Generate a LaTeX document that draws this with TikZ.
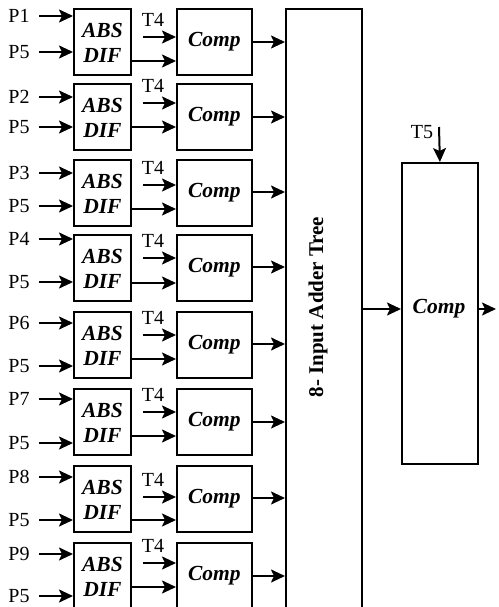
\documentclass[tikz,border=0pt]{standalone}
\usepackage{fontspec}
\setmainfont{Liberation Serif}
\usetikzlibrary{arrows.meta}
\begin{document}
\begin{tikzpicture}[x=1pt,y=-1pt,
  box/.style={draw, line width=1.8pt, inner sep=0pt},
  arr/.style={line width=2pt, -{Stealth[length=14pt,width=13pt,inset=3pt]}},
  lbl/.style={font=\fontsize{20}{22}\selectfont, inner sep=0pt},
  bi/.style={font=\fontsize{21.5}{25}\selectfont\bfseries\itshape, align=center, inner sep=0pt}]
\useasboundingbox (0,0) rectangle (498,607);
\clip (0,0) rectangle (498,607);
% adder tree
\node[box, minimum width=76pt, minimum height=640pt, anchor=north west] (tree) at (285,8) {};
\node[font=\fontsize{21}{24}\selectfont\bfseries, rotate=90, inner sep=0pt] (treetxt) at (318,307) {8- Input Adder Tree};
% rows
\foreach \i/\t/\pa/\pb/\ta/\oa/\co/\lab in {
  1/8/8/44/29/53/34/P1,
  2/83/14/44/20/44/34/P2,
  3/159/14/47/26/50/33/P3,
  4/234/5/48/24/49/33/P4,
  5/311/12/55/24/48/33/P6,
  6/388/11/55/24/48/34/P7,
  7/465/12/55/32/55/33/P8,
  8/542/12/54/21/45/34/P9}{
  \node[box, minimum width=57pt, minimum height=66pt, anchor=north west] (a\i) at (73,\t) {};
  \node[bi] (at\i) at ([yshift=-1pt]a\i.center) {ABS\\DIF};
  \node[box, minimum width=75pt, minimum height=66pt, anchor=north west] (c\i) at (176,\t) {};
  \node[bi] (ct\i) at (c\i.center) {Comp};
  \node[lbl] (p\i) at (19,\t+\pa) {\lab};
  \node[lbl] (q\i) at (19,\t+\pb) {P5};
  \coordinate (pa\i) at (39,\t+\pa);
  \coordinate (pb\i) at (39,\t+\pb);
  \draw[arr] (pa\i) -- (pa\i -| a\i.west);
  \draw[arr] (pb\i) -- (pb\i -| a\i.west);
  \coordinate (ta\i) at (143,\t+\ta);
  \node[lbl] (tl\i) at (153,\t+\ta-17) {T4};
  \draw[arr] (ta\i) -- (ta\i -| c\i.west);
  \coordinate (oa\i) at (130,\t+\oa);
  \draw[arr] (oa\i -| a\i.east) -- (oa\i -| c\i.west);
  \coordinate (co\i) at (251,\t+\co);
  \draw[arr] (co\i -| c\i.east) -- (co\i -| tree.west);
}
% final comparator
\node[box, minimum width=76pt, minimum height=301pt, anchor=north west] (mc) at (401,162) {};
\node[bi] (mct) at (439,309) {Comp};
\coordinate (tin) at (361,309);
\draw[arr] (tin -| tree.east) -- (tin -| mc.west);
\coordinate (out) at (496,309);
\draw[arr] (tin -| mc.east) -- (out);
\coordinate (t5s) at (439,127);
\node[lbl] (t5) at (422,132) {T5};
\draw[arr] (t5s) -- (mc.north);
\end{tikzpicture}
\end{document}
